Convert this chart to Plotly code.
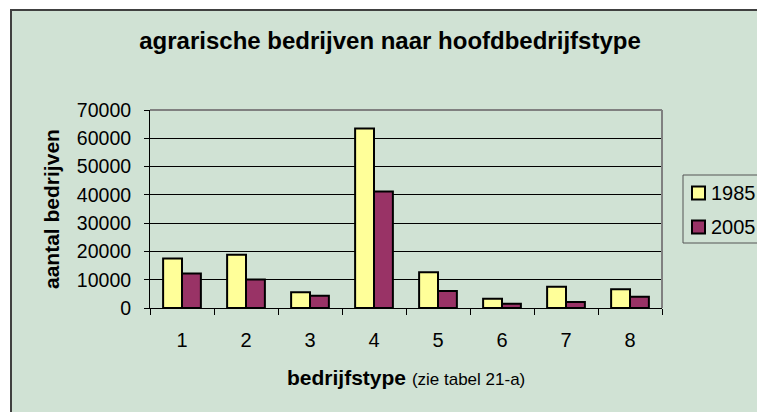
import plotly.graph_objects as go

categories = ["1", "2", "3", "4", "5", "6", "7", "8"]
values_1985 = [17500, 18800, 5600, 63500, 12600, 3300, 7500, 6600]
values_2005 = [12200, 10100, 4300, 41200, 6000, 1500, 2100, 4000]
series_names = ["1985", "2005"]
series_colors = ["#FFFF99", "#993366"]
y_ticks = [0, 10000, 20000, 30000, 40000, 50000, 60000, 70000]

OFF = 8  # page body margin
W, H = 765 - OFF, 412 - OFF
L, R, T, B = 150 - OFF, 765 - 662, 110 - OFF, 412 - 308
PW, PH = W - L - R, H - T - B

def px_x(p):
    return (p - OFF - L) / PW

def px_y(p):
    return (H - B - (p - OFF)) / PH

BG = "#D0E2D4"
FONT = "Liberation Sans, Arial, sans-serif"

fig = go.Figure()
for vals, name, col in zip([values_1985, values_2005], series_names, series_colors):
    fig.add_trace(go.Bar(x=categories, y=vals, name=name,
                         marker=dict(color=col, line=dict(color="black", width=2))))

fig.update_layout(
    width=W, height=H,
    margin=dict(l=L, r=R, t=T, b=B, autoexpand=False),
    paper_bgcolor="white", plot_bgcolor="white",
    barmode="group", bargap=0.41, bargroupgap=0,
    font=dict(family=FONT, color="black", size=20),
    showlegend=False,
    title=dict(text="<b>agrarische bedrijven naar hoofdbedrijfstype</b>",
               x=(390 - OFF) / W, xanchor="center", y=1 - (41 - OFF) / H, yanchor="middle",
               font=dict(size=24, family=FONT)),
)

fig.update_xaxes(type="category", showline=True, linecolor="black", linewidth=1,
                 ticks="outside", tickson="boundaries", ticklen=6, tickcolor="black",
                 ticklabelstandoff=14, showgrid=False, fixedrange=True)
fig.update_yaxes(range=[0, 70000], tickvals=y_ticks, tickformat="d", showline=True,
                 linecolor="black", linewidth=1, ticks="outside", ticklen=5, tickcolor="black",
                 ticklabelstandoff=9, tickfont=dict(size=19.5), showgrid=True,
                 gridcolor="black", gridwidth=1, zeroline=False, fixedrange=True)

# outer chart area (green with dark border)
fig.add_shape(type="rect", xref="paper", yref="paper", layer="below",
              x0=px_x(11), x1=px_x(790), y0=px_y(430), y1=px_y(10),
              fillcolor=BG, line=dict(color="#404040", width=2))
# plot area top/right border (gray)
fig.add_shape(type="line", xref="paper", yref="paper", x0=0, x1=1, y0=1, y1=1,
              line=dict(color="#808080", width=2))
fig.add_shape(type="line", xref="paper", yref="paper", x0=1, x1=1, y0=0, y1=1,
              line=dict(color="#808080", width=2))

# legend box (drawn manually to match the original spacing)
fig.add_shape(type="rect", xref="paper", yref="paper",
              x0=px_x(683), x1=px_x(790), y0=px_y(243), y1=px_y(175),
              fillcolor=BG, line=dict(color="#555555", width=1))
row_y = [193, 227]
for name, col, ry in zip(series_names, series_colors, row_y):
    fig.add_shape(type="rect", xref="paper", yref="paper",
                  x0=px_x(692), x1=px_x(705), y0=px_y(ry + 6.5), y1=px_y(ry - 6.5),
                  fillcolor=col, line=dict(color="black", width=2))
    fig.add_annotation(xref="paper", yref="paper", x=px_x(709), y=px_y(ry),
                       text=name, showarrow=False, font=dict(size=20, family=FONT),
                       xanchor="left", yanchor="middle")

# axis titles
fig.add_annotation(xref="paper", yref="paper", x=px_x(51), y=0.5, textangle=-90,
                   text="<b>aantal bedrijven</b>", showarrow=False,
                   font=dict(size=21, family=FONT), xanchor="center", yanchor="middle")
fig.add_annotation(xref="paper", yref="paper", x=0.5, y=px_y(377),
                   text="<b>bedrijfstype</b> <span style='font-size:17px'>(zie tabel 21-a)</span>",
                   showarrow=False, font=dict(size=21, family=FONT),
                   xanchor="center", yanchor="middle")

fig.write_html("out.html")
